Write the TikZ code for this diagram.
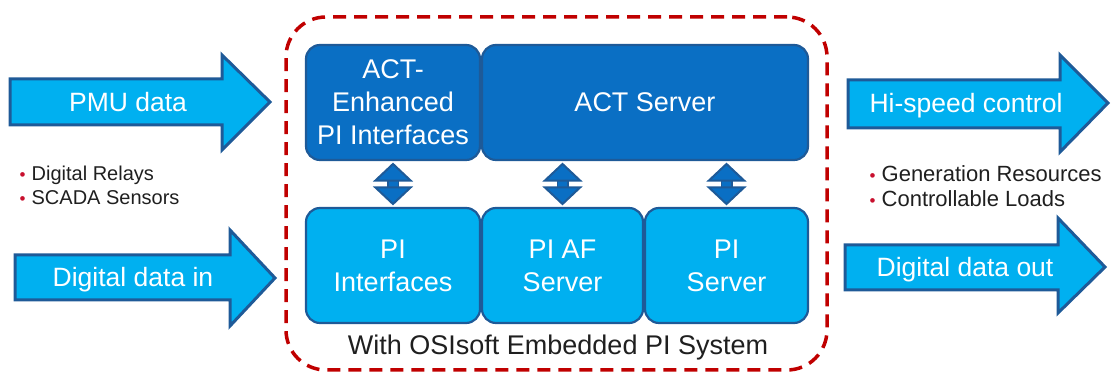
\documentclass[tikz,border=0pt]{standalone}
\usepackage{fontspec}
\setmainfont{Liberation Sans}
\usetikzlibrary{arrows.meta}
\definecolor{skyfill}{HTML}{00B0F0}
\definecolor{deepfill}{HTML}{0A6FC4}
\definecolor{edgeblue}{HTML}{1E5A98}
\definecolor{framered}{HTML}{C00000}
\definecolor{dotred}{HTML}{C8102E}
\newcommand{\reddot}{{\color{dotred}\fontsize{17}{17}\selectfont\textbullet}\hspace{6pt}}
\begin{document}
\begin{tikzpicture}[x=1pt,y=1pt,
  fatarrow/.style={fill=skyfill,draw=edgeblue,line width=3pt,line join=miter},
  arrowtext/.style={anchor=base,text=white,font=\fontsize{26.5}{30}\selectfont},
  topbox/.style={fill=deepfill,draw=edgeblue,line width=2.2pt,rounded corners=14pt,text=white,align=center,font=\fontsize{27}{33}\selectfont},
  lowbox/.style={topbox,fill=skyfill},
  frame/.style={draw=framered,line width=3.5pt,dash pattern=on 13pt off 8pt,rounded corners=40pt,inner sep=0pt},
  bullets/.style={anchor=west,align=left,inner sep=0pt,text=black!88},
  updown/.style={draw=deepfill,line width=9pt,shorten <=1.5pt,shorten >=1.5pt,
    {Triangle[width=40pt,length=19pt,line width=2pt,color=edgeblue,fill=deepfill]}-{Triangle[width=40pt,length=19pt,line width=2pt,color=edgeblue,fill=deepfill]},
    preaction={draw=edgeblue,line width=12pt,-,shorten <=18pt,shorten >=18pt}}]
\useasboundingbox (0,0) rectangle (1112,374);
\node[frame,minimum width=541pt,minimum height=353pt] (embedded) at (556.5,180.5) {};
\node[anchor=base,font=\fontsize{27}{30}\selectfont,text=black!88] (embcap) at (558,19) {With OSIsoft Embedded PI System};
\draw[fatarrow] (10,249) -- (222,249) -- (222,224) -- (270,272) -- (222,319) -- (222,295) -- (10,295) -- cycle;
\node[arrowtext] (pmu) at (128,262) {PMU data};
\draw[fatarrow] (15,74) -- (230,74) -- (230,48) -- (275,96) -- (230,144) -- (230,119) -- (15,119) -- cycle;
\node[arrowtext] (digin) at (133,87) {Digital data in};
\draw[fatarrow] (848,246) -- (1060,246) -- (1060,222) -- (1108,271) -- (1060,319) -- (1060,294) -- (848,294) -- cycle;
\node[arrowtext] (hispeed) at (966,261) {Hi-speed control};
\draw[fatarrow] (845,84) -- (1058,84) -- (1058,61) -- (1105,107) -- (1058,156) -- (1058,129) -- (845,129) -- cycle;
\node[arrowtext] (digout) at (965,97) {Digital data out};
\node[bullets,font=\fontsize{20}{24}\selectfont] (sources) at (19.5,189) {\reddot Digital Relays\\\reddot SCADA Sensors};
\node[bullets,font=\fontsize{22}{25}\selectfont] (targets) at (869.5,188) {\reddot Generation Resources\\\reddot Controllable Loads};
\node[topbox,minimum width=174pt,minimum height=115pt] (actpi) at (393,271.5) {ACT-\\Enhanced\\PI Interfaces};
\node[topbox,minimum width=326pt,minimum height=115pt] (actsrv) at (645,271.5) {ACT Server};
\node[lowbox,minimum width=174pt,minimum height=115pt] (piint) at (393,108.5) {PI\\Interfaces};
\node[lowbox,minimum width=161pt,minimum height=115pt] (piaf) at (562.5,108.5) {PI AF\\Server};
\node[lowbox,minimum width=163pt,minimum height=115pt] (pisrv) at (726.5,108.5) {PI\\Server};
\draw[updown] (actpi) -- (piint);
\draw[updown] (piaf.north |- actsrv.south) -- (piaf.north);
\draw[updown] (pisrv.north |- actsrv.south) -- (pisrv.north);
\end{tikzpicture}
\end{document}
